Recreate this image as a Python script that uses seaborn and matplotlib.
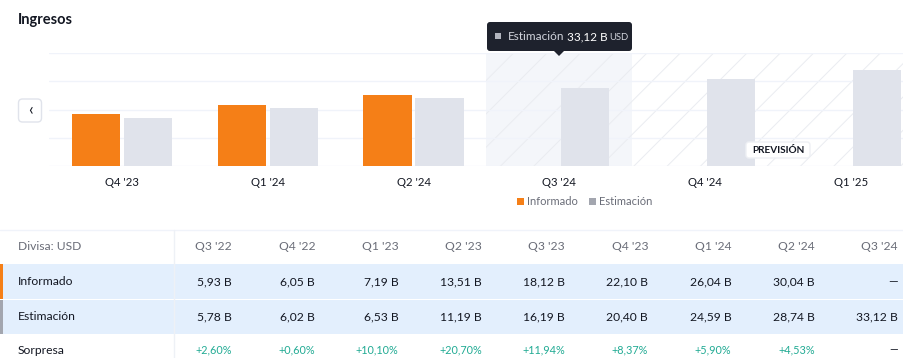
import numpy as np
import pandas as pd
import matplotlib.pyplot as plt
import seaborn as sns
from matplotlib.patches import Rectangle, FancyBboxPatch, Polygon

# chart data (billions USD)
chart_quarters = ["Q4 '23", "Q1 '24", "Q2 '24", "Q3 '24", "Q4 '24", "Q1 '25"]
chart_reported = [22.10, 26.04, 30.04, np.nan, np.nan, np.nan]
chart_estimate = [20.40, 24.59, 28.74, 33.12, 36.8, 40.8]

# table data
table_quarters = ["Q3 '22", "Q4 '22", "Q1 '23", "Q2 '23", "Q3 '23", "Q4 '23", "Q1 '24", "Q2 '24", "Q3 '24"]
table_reported = [5.93, 6.05, 7.19, 13.51, 18.12, 22.10, 26.04, 30.04, None]
table_estimate = [5.78, 6.02, 6.53, 11.19, 16.19, 20.40, 24.59, 28.74, 33.12]
table_surprise = [2.60, 0.60, 10.10, 20.70, 11.94, 8.37, 5.90, 4.53, None]

ORANGE = "#f57f17"
EST = "#e0e3eb"
DARK = "#131722"
GRAY = "#6a6d78"
GREEN = "#22ab94"

sns.set_theme(style="white")
plt.rcParams['font.family'] = ['Lato', 'DejaVu Sans']
plt.rcParams['hatch.linewidth'] = 0.7

df = pd.DataFrame({
    'quarter': chart_quarters * 2,
    'serie': ['Informado'] * 6 + ['Estimación'] * 6,
    'valor': chart_reported + chart_estimate,
})

fig = plt.figure(figsize=(9.04, 3.58), dpi=100)
W, H = 904, 358

# chart axes: left 49px, right 904px, top 53px, bottom 166px
ax = fig.add_axes([49 / W, 1 - 166 / H, 855 / W, 113 / H])
ax.set_facecolor('none')

# forecast region
ax.axvspan(2.5, 3.5, color='#f4f6fa', lw=0, zorder=0)
ax.axvspan(2.5, 5.5, facecolor='none', edgecolor='#eaecf1', hatch='/', lw=0, zorder=0.5)

sns.barplot(data=df, x='quarter', y='valor', hue='serie', order=chart_quarters,
            hue_order=['Informado', 'Estimación'], palette=[ORANGE, EST], saturation=1,
            width=0.713, gap=0.074, linewidth=0, errorbar=None, ax=ax, zorder=2)
ax.get_legend().remove()

ax.set_xlim(-0.5, 5.364)
ax.set_ylim(0, 48)
ax.set_yticks([0, 12, 24, 36, 48])
ax.yaxis.grid(True, color='#f0f3fa', lw=1, zorder=1)
ax.set_axisbelow(True)
ax.set_yticklabels([])
ax.set_xlabel('')
ax.set_ylabel('')
ax.tick_params(axis='both', length=0)
ax.tick_params(axis='x', pad=8, labelsize=8.2, labelcolor=DARK)
sns.despine(ax=ax, left=True, bottom=True)

# overlay axes in pixel coordinates
ov = fig.add_axes([0, 0, 1, 1], zorder=5)
ov.set_xlim(0, W)
ov.set_ylim(H, 0)
ov.axis('off')
ov.patch.set_alpha(0)

ov.text(18, 20, 'Ingresos', fontsize=10.5, fontweight='bold', color=DARK, va='center', ha='left')

# left navigation button
ov.add_patch(FancyBboxPatch((18.5, 99), 23, 23, boxstyle='round,pad=0,rounding_size=4',
                            fc='white', ec='#e0e3eb', lw=1))
ov.text(30, 110.5, '‹', fontsize=12, color=DARK, ha='center', va='center')

# tooltip
ov.add_patch(FancyBboxPatch((487, 22), 145, 29, boxstyle='round,pad=0,rounding_size=3',
                            fc='#1e222d', ec='none'))
ov.add_patch(Polygon([[554, 51], [564, 51], [559, 56]], closed=True, fc='#1e222d', ec='none'))
ov.add_patch(Rectangle((495, 33), 6, 6, fc='#b2b5be', ec='none'))
ov.text(508, 36.5, 'Estimación', fontsize=8.5, color='#d1d4dc', va='center')
ov.text(567, 36.5, '33,12 B', fontsize=8.5, color='white', va='center')
ov.text(609, 37, 'USD', fontsize=6.8, color='#d1d4dc', va='center')

# forecast label
ov.add_patch(FancyBboxPatch((746, 142), 64, 16, boxstyle='round,pad=0,rounding_size=3',
                            fc='white', ec='#eef0f4', lw=1))
ov.text(778, 150.5, 'PREVISIÓN', fontsize=7.2, fontweight='bold', color=DARK,
        ha='center', va='center')

# legend
ov.add_patch(Rectangle((517, 198), 7, 7, fc=ORANGE, ec='none'))
ov.text(527, 201.5, 'Informado', fontsize=8, color=GRAY, va='center')
ov.add_patch(Rectangle((589, 198), 7, 7, fc='#a3a6af', ec='none'))
ov.text(599, 201.5, 'Estimación', fontsize=8, color=GRAY, va='center')

# table
ov.plot([0, W], [229.5, 229.5], color='#f0f3fa', lw=1)
ov.add_patch(Rectangle((0, 264), W, 35, fc='#e3effd', ec='none'))
ov.add_patch(Rectangle((0, 300), W, 34, fc='#e3effd', ec='none'))
ov.add_patch(Rectangle((0, 264), 3, 35, fc=ORANGE, ec='none'))
ov.add_patch(Rectangle((0, 300), 3, 34, fc='#a3a6af', ec='none'))
ov.plot([174, 174], [230, H], color='#eef1f6', lw=1)

rows_y = {'head': 246, 'rep': 281.5, 'est': 317, 'sur': 350}
ov.text(18, rows_y['head'] + 1, 'Divisa: USD', fontsize=8.7, color=GRAY, va='center')
ov.text(18, rows_y['rep'], 'Informado', fontsize=8.7, color=DARK, va='center')
ov.text(18, rows_y['est'], 'Estimación', fontsize=8.7, color=DARK, va='center')
ov.text(18, rows_y['sur'], 'Sorpresa', fontsize=8.7, color=DARK, va='center')


def fmt_b(v):
    return '—' if v is None else f"{v:.2f}".replace('.', ',') + ' B'


def fmt_pct(v):
    return '—' if v is None else '+' + f"{v:.2f}".replace('.', ',') + '%'


for i, q in enumerate(table_quarters):
    xr = 232 + i * 83.25
    ov.text(xr, rows_y['head'], q, fontsize=8.7, color=GRAY, ha='right', va='center')
    ov.text(xr, rows_y['rep'], fmt_b(table_reported[i]), fontsize=8.7, color=DARK, ha='right', va='center')
    ov.text(xr, rows_y['est'], fmt_b(table_estimate[i]), fontsize=8.7, color=DARK, ha='right', va='center')
    col = DARK if table_surprise[i] is None else GREEN
    ov.text(xr, rows_y['sur'], fmt_pct(table_surprise[i]), fontsize=7.8, color=col, ha='right', va='center')

fig.savefig('out.png', dpi=100)
